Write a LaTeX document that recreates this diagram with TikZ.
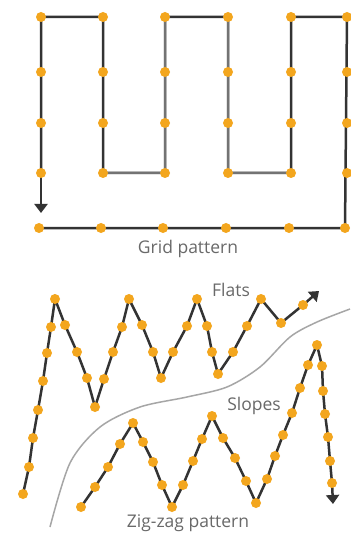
\documentclass[tikz,border=0pt]{standalone}
\usepackage{fontspec}
\setsansfont{Open Sans}
\usetikzlibrary{arrows.meta}
\definecolor{dotorange}{RGB}{243,166,30}
\definecolor{labelgray}{RGB}{105,105,105}
\tikzset{
	dot/.style = {circle, fill = dotorange, inner sep = 0pt, minimum size = 10pt},
	track/.style = {draw = black!80, line width = 2.5pt},
	lighttrack/.style = {draw = black!55, line width = 2.5pt},
	tip/.style = {-{Triangle[length = 9pt, width = 13pt]}},
	caption/.style = {text = labelgray, font = \sffamily\fontsize{17.5}{20}\selectfont}
}
\begin{document}
\begin{tikzpicture}[x = 1pt, y = -1pt]
\useasboundingbox[fill = white] (0,0) rectangle (350,534);
\foreach \c / \x in {1/41,2/103,3/165,4/228,5/291,6/347}
{
	\foreach \r / \y in {1/17,2/72,3/123,4/173}
		\coordinate (g-\c-\r) at (\x,\y);
	\coordinate (b-\c) at (\x-2,228);
}
\coordinate (gend) at (41,213);
\draw[track] (b-1) -- (b-6) -- (g-6-1) -- (g-5-1) -- (g-5-4) -- (g-4-4) -- (g-4-1) -- (g-3-1) -- (g-3-4) -- (g-2-4) -- (g-2-1) -- (g-1-1) -- (g-1-4);
\draw[lighttrack] (g-2-4) -- (g-3-4) -- (g-3-1);
\draw[lighttrack] (g-4-1) -- (g-4-4) -- (g-5-4);
\draw[track, tip] (g-1-4) -- (gend);
\foreach \c in {1,...,6}
{
	\foreach \r in {1,...,4}
		\node[dot] at (g-\c-\r) {};
	\node[dot] at (b-\c) {};
}
\node[caption] (gridlabel) at (188,249) {Grid pattern};
\foreach \x / \y [count = \i] in {23/494,29/467,33/438,38/410,43/381,47/353,51/327,55/299,65/325,77/352,87/378,95/407,104/379,113/352,122/327,129/299,142/325,153/352,161/378,173/352,187/326,197/299,207/326,212/352,218/374,233/352,247/326,261/299,281/323,303/305}
	\coordinate (u\i) at (\x,\y);
\coordinate (uend) at (319,291);
\foreach \x / \y [count = \i] in {81/507,95/487,108/467,120/444,133/423,143/442,153/462,162/485,172/507,183/485,193/461,202/439,212/416,223/438,235/458,246/481,256/503,267/479,275/456,283/435,292/413,300/388,308/365,317/345,322/366,323/391,325/414,328/437,330/461,332/483}
	\coordinate (l\i) at (\x,\y);
\coordinate (lend) at (333,504);
\draw[black!35, line width = 1.5pt] plot[smooth] coordinates {(50,527) (70,463) (100,427) (140,407) (187,397) (227,387) (260,367) (290,337) (317,322) (350,309)};
\draw[track] (u1) \foreach \i in {2,...,30} {-- (u\i)};
\draw[track, tip] (u30) -- (uend);
\draw[track] (l1) \foreach \i in {2,...,30} {-- (l\i)};
\draw[track, tip] (l30) -- (lend);
\foreach \i in {1,...,30}
{
	\node[dot] at (u\i) {};
	\node[dot] at (l\i) {};
}
\node[caption] (flatlabel) at (231,290) {Flats};
\node[caption] (slopelabel) at (254,406) {Slopes};
\node[caption] (ziglabel) at (188,523) {Zig-zag pattern};
\end{tikzpicture}
\end{document}
